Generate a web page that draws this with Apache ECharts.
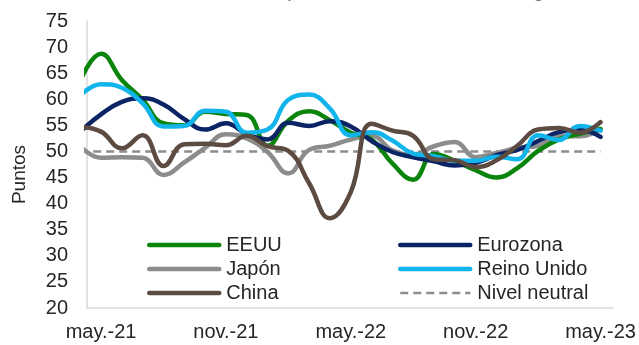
<!DOCTYPE html>
<html>
<head>
<meta charset="utf-8">
<script src="https://cdn.jsdelivr.net/npm/echarts@6/dist/echarts.min.js"></script>
<style>
html,body{margin:0;padding:0;background:#fff;}
#chart{width:639px;height:345px;}
</style>
</head>
<body>
<div id="chart"></div>
<script>
// Monthly data, abr.-21 .. may.-23 (first month only partly visible at the left edge)
const months = ['abr.-21','may.-21','jun.-21','jul.-21','ago.-21','sep.-21','oct.-21','nov.-21','dic.-21',
  'ene.-22','feb.-22','mar.-22','abr.-22','may.-22','jun.-22','jul.-22','ago.-22','sep.-22','oct.-22','nov.-22','dic.-22',
  'ene.-23','feb.-23','mar.-23','abr.-23','may.-23'];
const eeuu      = [63.5,68.7,63.7,59.9,55.4,55.0,57.6,57.2,57.0, 51.1,55.9,57.7,56.0,53.6,52.3,47.7,44.6,49.5,48.2,46.4,45.0, 46.8,50.1,52.3,53.4,54.3];
const eurozona  = [53.8,57.1,59.5,60.2,59.0,56.2,54.2,55.4,53.3, 52.3,55.5,54.9,55.8,54.8,52.0,49.9,48.9,48.1,47.3,47.8,49.3, 50.3,52.0,53.7,54.1,52.8];
const japon     = [51.0,48.8,48.9,48.8,45.5,47.9,50.7,53.3,52.5, 49.9,45.8,50.3,51.1,52.3,53.0,50.2,49.4,51.0,51.8,48.9,49.7, 50.7,51.1,52.9,52.9,54.3];
const reinoUnido= [60.7,62.9,62.2,59.2,54.8,54.9,57.8,57.6,53.6, 54.2,59.9,60.9,58.2,53.1,53.7,52.1,49.6,49.1,48.2,48.2,49.0, 48.5,53.1,52.2,54.9,54.0];
const china     = [54.7,53.8,50.6,53.1,47.2,51.4,51.5,51.2,53.0, 51.0,50.1,43.9,37.2,42.2,55.3,54.0,53.0,48.5,48.3,47.0,48.3, 51.1,54.2,54.5,53.6,55.6];
const neutral   = months.map(() => 50);
const yMin = 20, yMax = 75, yStep = 5;

const FONT = "'Liberation Sans',Arial,sans-serif";
const TXT = '#262626';
const toXY = arr => arr.map((v, i) => [i - 1, v]);   // x = months since may.-21

const chart = echarts.init(document.getElementById('chart'), null, {renderer: 'canvas'});
const lineSeries = (name, data, color, extra) => Object.assign({
  name, type: 'line', data: toXY(data), smooth: 0.45, symbol: 'none', showSymbol: false,
  lineStyle: {color, width: 4.5, cap: 'round'}, itemStyle: {color}, z: 3
}, extra || {});
const legItem = name => ({name, lineStyle: {width: name === 'Nivel neutral' ? 2.5 : 4.5}});
const legendBase = {
  orient: 'vertical', top: 228, itemWidth: 70, itemHeight: 14, itemGap: 0,
  itemStyle: {opacity: 0},
  textStyle: {fontFamily: FONT, fontSize: 20, lineHeight: 24, color: TXT, padding: [0,0,0,2]}
};

chart.setOption({
  animation: false,
  backgroundColor: '#fff',
  graphic: [{
    type: 'text', left: 'center', top: -19,
    style: {text: 'Gráfico 5. Índices PMI compuestos en las diferentes regiones', font: "20px " + FONT, fill: '#7a6b5e'}
  }],
  grid: {left: 87, right: 26, top: 21, bottom: 37, containLabel: false},
  xAxis: {
    type: 'value', min: -0.673, max: 24.6,
    axisLine: {show: true, onZero: false, lineStyle: {color: '#d9d9d9', width: 1.5}},
    axisTick: {show: false}, splitLine: {show: false},
    axisLabel: {
      customValues: [0, 6, 12, 18, 24],
      formatter: v => months[Math.round(v) + 1],
      fontFamily: FONT, fontSize: 20, color: TXT, margin: 14
    }
  },
  yAxis: {
    type: 'value', min: yMin, max: yMax, interval: yStep,
    name: 'Puntos', nameLocation: 'middle', nameGap: 58, nameRotate: 90,
    nameTextStyle: {fontFamily: FONT, fontSize: 19, color: TXT, padding: [0, 20, 0, 0]},
    axisLine: {show: true, onZero: false, lineStyle: {color: '#d9d9d9', width: 1.5}},
    axisTick: {show: false}, splitLine: {show: false},
    axisLabel: {fontFamily: FONT, fontSize: 20, color: TXT, margin: 19}
  },
  legend: [
    Object.assign({}, legendBase, {left: 142, data: ['EEUU', 'Japón', 'China'].map(legItem)}),
    Object.assign({}, legendBase, {left: 393, data: ['Eurozona', 'Reino Unido', 'Nivel neutral'].map(legItem)})
  ],
  series: [
    lineSeries('Nivel neutral', neutral, '#8c8c8c', {smooth: false, lineStyle: {color: '#8c8c8c', width: 2.5, type: [8, 5]}, z: 2}),
    lineSeries('Japón', japon, '#8c8c8c'),
    lineSeries('EEUU', eeuu, '#0a840a'),
    lineSeries('Eurozona', eurozona, '#0b2465'),
    lineSeries('Reino Unido', reinoUnido, '#12b4ec'),
    lineSeries('China', china, '#5b4b40')
  ]
});
</script>
</body>
</html>
